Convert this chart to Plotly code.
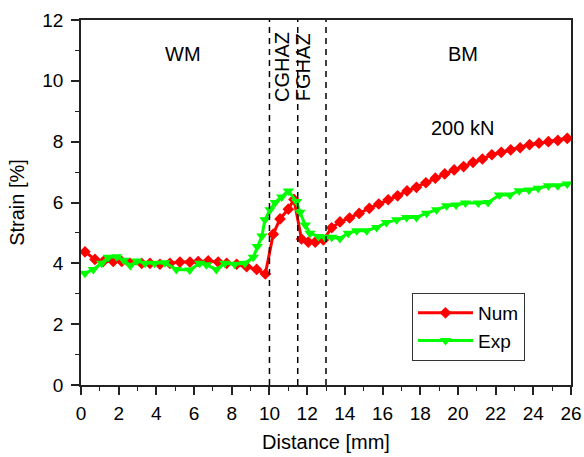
import plotly.graph_objects as go

# Strain profile across the weld at 200 kN
num_x = [0.21, 0.74, 1.18, 1.71, 2.16, 2.6, 3.22, 3.66, 4.19, 4.72, 5.25, 5.78, 6.22, 6.75,
         7.28, 7.73, 8.26, 8.79, 9.32, 9.78, 10.2, 10.56, 11.0, 11.3, 11.7, 12.06, 12.43,
         12.86, 13.3, 13.74, 14.25, 14.76, 15.3, 15.8, 16.3, 16.8, 17.3, 17.8, 18.3, 18.8,
         19.3, 19.8, 20.3, 20.8, 21.3, 21.8, 22.3, 22.8, 23.3, 23.8, 24.3, 24.8, 25.3, 25.8]
num_y = [4.38, 4.13, 4.06, 4.06, 4.06, 4.0, 4.0, 4.0, 3.97, 4.0, 4.04, 4.04, 4.06, 4.08,
         4.04, 4.0, 3.97, 3.89, 3.8, 3.65, 4.96, 5.46, 5.78, 6.1, 4.8, 4.7, 4.7,
         4.77, 5.17, 5.36, 5.49, 5.64, 5.81, 5.95, 6.09, 6.22, 6.38, 6.5, 6.65, 6.8,
         6.94, 7.07, 7.18, 7.32, 7.43, 7.57, 7.65, 7.73, 7.8, 7.9, 7.95, 8.0, 8.04, 8.11]

exp_x = [0.21, 0.65, 1.1, 1.45, 1.9, 2.27, 2.62, 2.97, 3.4, 3.9, 4.45, 5.06, 5.77, 6.3,
         6.65, 7.18, 7.63, 8.15, 8.7, 9.14, 9.35, 9.6, 9.76, 10.03, 10.3, 10.65, 11.0,
         11.44, 11.62, 11.9, 12.15, 12.6, 12.94, 13.3, 13.74, 14.18, 14.63, 15.16, 15.69,
         16.2, 16.75, 17.28, 17.8, 18.34, 18.87, 19.4, 19.9, 20.4, 21.08, 21.6, 22.2,
         22.76, 23.25, 23.77, 24.26, 24.8, 25.3, 25.8]
exp_y = [3.67, 3.8, 4.0, 4.2, 4.22, 4.1, 3.93, 4.08, 4.0, 4.0, 4.02, 3.8, 3.78, 4.0,
         3.95, 3.8, 4.0, 3.97, 4.0, 4.2, 4.55, 4.9, 5.43, 5.76, 6.0, 6.18, 6.38,
         6.03, 5.68, 5.26, 4.99, 4.88, 4.86, 4.86, 4.82, 4.99, 5.07, 5.07, 5.18,
         5.34, 5.43, 5.51, 5.51, 5.65, 5.76, 5.89, 5.92, 5.98, 5.98, 6.0, 6.25,
         6.25, 6.39, 6.41, 6.47, 6.55, 6.55, 6.61]

# Zone boundaries (mm)
zone_bounds = [10, 11.5, 13]

# Zone labels: (text, x, y, angle)
zone_labels = [("WM", 5.4, 10.88, 0), ("BM", 20.26, 10.88, 0),
               ("CGHAZ", 10.66, 10.45, -90), ("FGHAZ", 11.78, 10.45, -90)]
load_label = ("200 kN", 20.26, 8.45)

FONT = "Liberation Sans, Arial, Helvetica, sans-serif"

fig = go.Figure()
fig.add_trace(go.Scatter(
    x=num_x, y=num_y, name="Num", mode="lines+markers", legendgroup="num",
    line=dict(color="#ff0000", width=3),
    marker=dict(symbol="diamond", size=9, color="#ff0000"),
))
fig.add_trace(go.Scatter(
    x=exp_x, y=exp_y, name="Exp", mode="lines+markers", legendgroup="exp",
    line=dict(color="#00ff00", width=3),
    marker=dict(symbol="triangle-down", size=10, color="#00ff00"),
))

for xb in zone_bounds:
    fig.add_shape(type="line", x0=xb, x1=xb, y0=0, y1=12, xref="x", yref="y",
                  line=dict(color="black", width=1.5, dash="6px,5px"))

for text, x, y, ang in zone_labels:
    fig.add_annotation(x=x, y=y, text=text, showarrow=False, textangle=ang,
                       font=dict(family=FONT, size=20, color="black"))
fig.add_annotation(x=load_label[1], y=load_label[2], text=load_label[0], showarrow=False,
                   font=dict(family=FONT, size=20, color="black"))

axis_common = dict(
    showline=True, linecolor="#222", linewidth=1.5, mirror=True,
    ticks="outside", ticklen=8, tickwidth=1.5, tickcolor="#222",
    showgrid=False, zeroline=False, automargin=False,
    tickfont=dict(family=FONT, size=19, color="black"),
)

fig.update_xaxes(
    range=[0, 26], tick0=0, dtick=2, ticklabelstandoff=2,
    minor=dict(dtick=1, ticks="outside", ticklen=4, tickwidth=1.3, tickcolor="#222"),
    title=dict(text="Distance [mm]", font=dict(family=FONT, size=20, color="black"), standoff=12),
    **axis_common,
)
fig.update_yaxes(
    range=[0, 12], tick0=0, dtick=2, ticklabelstandoff=4,
    minor=dict(dtick=1, ticks="outside", ticklen=4, tickwidth=1.3, tickcolor="#222"),
    title=dict(text="Strain [%]", font=dict(family=FONT, size=20, color="black"), standoff=12),
    **axis_common,
)

fig.update_layout(
    width=584, height=457,
    margin=dict(l=81, r=13, t=20, b=72),
    paper_bgcolor="white", plot_bgcolor="white",
    legend=dict(x=0.6755, y=0.252, xanchor="left", yanchor="top",
                bordercolor="#333", borderwidth=1, bgcolor="white",
                font=dict(family=FONT, size=19, color="black"),
                itemwidth=55, tracegroupgap=0),
    showlegend=True,
)

fig.write_html("out.html")
